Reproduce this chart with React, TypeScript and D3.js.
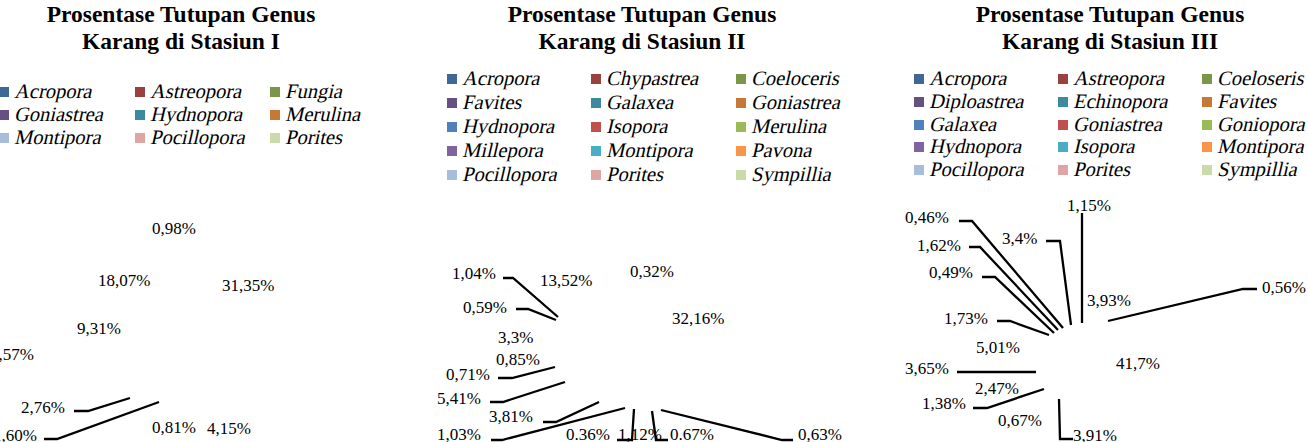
import { useEffect, useRef } from "react";
import * as d3 from "d3";

// Genus names (legend order, row by row)
const generaI = ["Acropora", "Astreopora", "Fungia", "Goniastrea", "Hydnopora", "Merulina", "Montipora", "Pocillopora", "Porites"];
const generaII = ["Acropora", "Chypastrea", "Coeloceris", "Favites", "Galaxea", "Goniastrea", "Hydnopora", "Isopora", "Merulina", "Millepora", "Montipora", "Pavona", "Pocillopora", "Porites", "Sympillia"];
const generaIII = ["Acropora", "Astreopora", "Coeloseris", "Diploastrea", "Echinopora", "Favites", "Galaxea", "Goniastrea", "Goniopora", "Hydnopora", "Isopora", "Montipora", "Pocillopora", "Porites", "Sympillia"];

// Data labels as printed on the chart (the pie itself did not render)
const labelsI = ["0,98%", "18,07%", "31,35%", "9,31%", "2,57%", "2,76%", "1,60%", "0,81%", "4,15%"];
const labelsII = ["1,04%", "13,52%", "0,32%", "0,59%", "32,16%", "3,3%", "0,85%", "0,71%", "5,41%", "3,81%", "1,03%", "0.36%", "1,12%", "0.67%", "0,63%"];
const labelsIII = ["1,15%", "0,46%", "3,4%", "1,62%", "0,49%", "3,93%", "0,56%", "1,73%", "5,01%", "41,7%", "3,65%", "2,47%", "1,38%", "0,67%", "3,91%"];

// Excel style palette: darker, base, lighter
const darkColors = ["#3F6797", "#9A403E", "#7C9647", "#665082", "#3C8A9E", "#C67836"];
const baseColors = ["#4F81BD", "#C0504D", "#9BBB59", "#8064A2", "#4BACC6", "#F79646"];
const lightColors = ["#A7BDDB", "#DDA5A4", "#CADBA9"];

type Pt = [number, number];
interface Panel {
  title: string;
  genera: string[];
  labels: string[];
  palette: string[];
  titleX: number;
  legendCols: number[];
  legendRows: number[];
  labelPos: Pt[];
  leaders: (Pt[] | null)[];
}

const panels: Panel[] = [
  {
    title: "Karang di Stasiun I",
    genera: generaI,
    labels: labelsI,
    palette: [...darkColors, ...lightColors],
    titleX: 181,
    legendCols: [-1, 135, 270],
    legendRows: [98, 121, 144],
    labelPos: [[152, 234], [98, 286], [222, 291], [77, 334], [-10, 360], [21, 413], [-7, 441], [152, 433], [207, 434]],
    leaders: [null, null, null, null, null, [[74, 411], [88, 411], [130, 398]], [[44, 439], [57, 439], [159, 402]], null, null],
  },
  {
    title: "Karang di Stasiun II",
    genera: generaII,
    labels: labelsII,
    palette: [...darkColors, ...baseColors, ...lightColors],
    titleX: 642,
    legendCols: [447, 591, 736],
    legendRows: [85, 109, 133, 157, 181],
    labelPos: [[452, 279], [540, 286], [630, 277], [463, 313], [672, 324], [498, 343], [496, 365], [446, 380], [437, 404], [489, 422], [437, 440], [566, 440], [618, 440], [670, 440], [798, 440]],
    leaders: [
      [[503, 278], [513, 278], [558, 317]], null, null,
      [[516, 309], [528, 309], [556, 320]], null, null, null,
      [[498, 378], [512, 378], [555, 367]],
      [[490, 402], [503, 402], [565, 382]],
      [[543, 422], [556, 422], [599, 402]],
      [[491, 440], [502, 440], [625, 408]],
      [[617, 440], [632, 440], [634, 409]], null,
      [[668, 440], [656, 440], [652, 411]],
      [[793, 440], [782, 440], [661, 410]],
    ],
  },
  {
    title: "Karang di Stasiun III",
    genera: generaIII,
    labels: labelsIII,
    palette: [...darkColors, ...baseColors, ...lightColors],
    titleX: 1110,
    legendCols: [914, 1058, 1202],
    legendRows: [85, 108, 131, 153, 176],
    labelPos: [[1067, 211], [905, 223], [1002, 244], [917, 251], [929, 278], [1087, 306], [1262, 293], [944, 324], [976, 353], [1116, 369], [905, 374], [975, 394], [922, 409], [998, 426], [1073, 441]],
    leaders: [
      [[1082, 213], [1082, 323]],
      [[959, 221], [972, 221], [1063, 328]],
      [[1046, 241], [1060, 241], [1071, 325]],
      [[969, 247], [980, 247], [1058, 330]],
      [[982, 277], [995, 277], [1054, 333]], null,
      [[1257, 289], [1243, 289], [1108, 321]],
      [[997, 321], [1010, 321], [1049, 335]], null, null,
      [[957, 372], [1036, 372]], null,
      [[973, 408], [987, 408], [1044, 389]], null,
      [[1073, 439], [1060, 439], [1059, 399]],
    ],
  },
];

const FONT = "'Liberation Serif', 'Times New Roman', serif";

export default function App() {
  const ref = useRef<SVGSVGElement>(null);

  useEffect(() => {
    if (!ref.current) return;
    const svg = d3.select(ref.current);
    svg.selectAll("*").remove();

    const line = d3.line<Pt>().x((d) => d[0]).y((d) => d[1]);

    panels.forEach((p) => {
      const g = svg.append("g");

      // title
      const t = g.append("text")
        .attr("text-anchor", "middle")
        .attr("font-family", FONT)
        .attr("font-weight", "bold")
        .attr("font-size", 23.5)
        .attr("fill", "#000");
      t.append("tspan").attr("x", p.titleX).attr("y", 22).text("Prosentase Tutupan Genus");
      t.append("tspan").attr("x", p.titleX).attr("y", 49).text(p.title);

      // legend
      const color = d3.scaleOrdinal<string, string>().domain(p.genera).range(p.palette);
      const item = g.append("g").selectAll("g")
        .data(p.genera)
        .join("g")
        .attr("transform", (_d, i) => `translate(${p.legendCols[i % 3]},${p.legendRows[Math.floor(i / 3)]})`);
      item.append("rect")
        .attr("x", 0).attr("y", -11)
        .attr("width", 10).attr("height", 10)
        .attr("fill", (d) => color(d));
      // serif italic is not available, so slant the regular face
      item.append("text")
        .attr("transform", "translate(15,0) skewX(-13)")
        .attr("font-family", FONT)
        .attr("font-size", 20.5)
        .attr("fill", "#000")
        .text((d) => d);

      // leader lines
      g.append("g").selectAll("path")
        .data(p.leaders.filter((l): l is Pt[] => l !== null))
        .join("path")
        .attr("d", (d) => line(d))
        .attr("fill", "none")
        .attr("stroke", "#000")
        .attr("stroke-width", 2.3);

      // data labels
      g.append("g").selectAll("text")
        .data(p.labels)
        .join("text")
        .attr("x", (_d, i) => p.labelPos[i][0])
        .attr("y", (_d, i) => p.labelPos[i][1])
        .attr("font-family", FONT)
        .attr("font-size", 17)
        .attr("fill", "#000")
        .text((d) => d);
    });
  }, []);

  return (
    <div style={{ position: "absolute", left: 0, top: 0, width: 1308, height: 442, background: "#fff" }}>
      <svg ref={ref} width={1308} height={442} style={{ display: "block" }} />
    </div>
  );
}
